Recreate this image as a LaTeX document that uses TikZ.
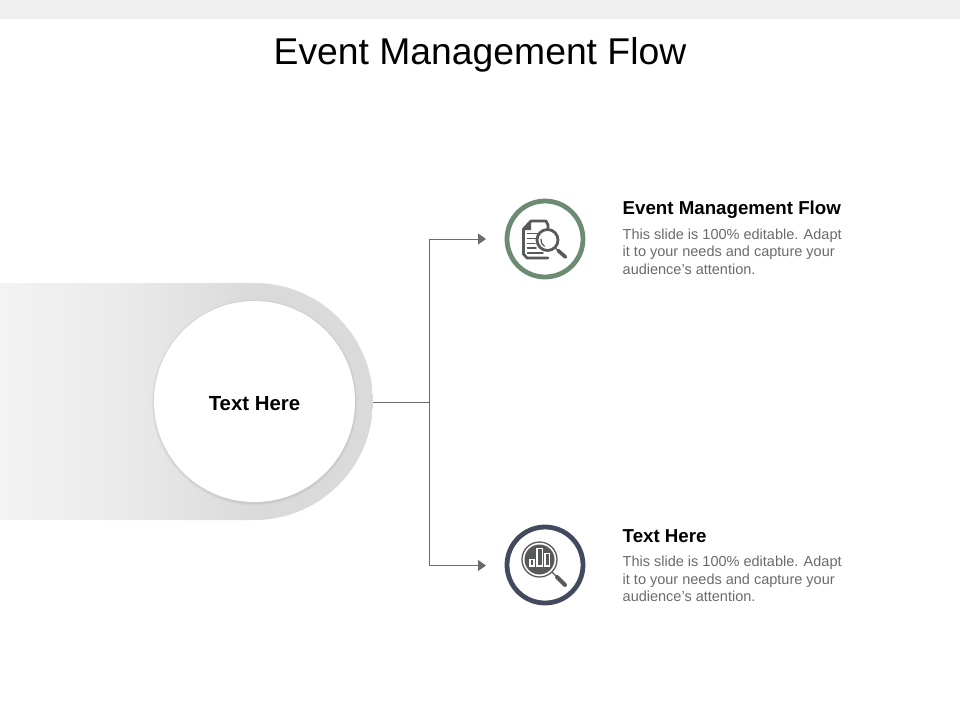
\documentclass[tikz,border=0pt]{standalone}
\usepackage{fontspec}
\setmainfont{Liberation Sans}
\usetikzlibrary{arrows.meta}
\definecolor{ringgreen}{HTML}{6B8B73}
\definecolor{ringnavy}{HTML}{434A5E}
\definecolor{icongray}{HTML}{58595B}
\definecolor{linegray}{HTML}{6B6B6B}
\definecolor{bodygray}{HTML}{6A6A6A}
\definecolor{bandend}{HTML}{DADADA}
\definecolor{bandmid}{HTML}{EAEAEA}
\definecolor{bandstart}{HTML}{F3F3F3}
\tikzset{
  ring/.style={circle,draw=#1,line width=4.8pt,fill=white,minimum size=76pt,inner sep=0pt},
  headtext/.style={anchor=west,inner sep=0pt,font=\fontsize{18.7}{21}\selectfont\bfseries,text=black},
  bodytext/.style={anchor=north west,inner sep=0pt,align=left,font=\fontsize{14.5}{17.5}\selectfont,text=bodygray},
  link/.style={draw=linegray,line width=0.9pt},
  linkarrow/.style={link,-{Triangle[length=8pt,width=11pt,fill=linegray]}},
  iconline/.style={draw=icongray,line width=2pt,line cap=round,line join=round},
}
\begin{document}
\begin{tikzpicture}[x=1pt,y=-1pt]
\useasboundingbox (0,0) rectangle (960,720);
\fill[black!6] (0,0) rectangle (960,19);
\node[inner sep=0pt,font=\fontsize{37.3}{42}\selectfont] (title) at (480,55) {Event Management Flow};
% band
\begin{scope}
  \clip (0,283) -- (254.5,283) arc[start angle=-90,end angle=90,radius=118.5] -- (0,520) -- cycle;
  \shade[left color=bandstart,right color=bandend,middle color=bandmid] (0,283) rectangle (254.5,520);
  \fill[bandend] (254.5,283) rectangle (373,520);
\end{scope}
\coordinate (bandtip) at (373,402);
% soft shadow of the disc
\foreach \r/\o in {103/0.015,102.3/0.02,101.6/0.03}{
  \fill[black,opacity=\o] (254.5,402.5) circle[radius=\r];
}
\node[circle,fill=white,minimum size=201pt,inner sep=0pt] (hub) at (254.5,401.5) {};
\node[inner sep=0pt,font=\fontsize{20.4}{23}\selectfont\bfseries] (hublabel) at (254.5,403.5) {Text Here};
% connectors
\coordinate (junction) at (429.5,402);
\node[ring=ringgreen] (top) at (545,239) {};
\node[ring=ringnavy] (bottom) at (545,565) {};
\coordinate (topend) at (486,239);
\coordinate (bottomend) at (486,565.5);
\draw[link] (bandtip) -- (junction);
\draw[linkarrow] (junction) |- (topend);
\draw[linkarrow] (junction) |- (bottomend);
% document + magnifier icon
\begin{scope}[shift={(490,185)}]
  \draw[iconline,line width=2.8pt] (58,43) -- (58,40) -- (56,36) -- (41,36) -- (33.5,44) -- (33.5,69) -- (37,73) -- (58,73);
  \fill[icongray] (41,35.5) -- (41,45) -- (33,45) -- cycle;
  \foreach \y/\e in {48.5/48,53.5/46,58.5/45,63/46,68/53}{
    \draw[iconline,line width=1.8pt] (37.5,\y) -- (\e,\y);
  }
  \draw[draw=icongray,line width=2.8pt,fill=white] (57.5,55) circle[radius=10.5];
  \draw[iconline,line width=1.2pt] (51,54) arc[start angle=190,end angle=120,radius=7];
  \draw[iconline,line width=1.4pt] (65,62.5) -- (68,65.5);
  \draw[iconline,line width=3.6pt] (68,65.5) -- (75.5,72);
\end{scope}
% chart + magnifier icon
\begin{scope}[shift={(490,510)}]
  \draw[draw=icongray,line width=1.3pt,fill=white] (49.5,49.5) circle[radius=17.5];
  \fill[icongray] (49.5,49.5) circle[radius=15];
  \foreach \xa/\ya/\xb in {40/49.5/44,47/38.5/52.5,55/43.5/59.5}{
    \draw[draw=white,line width=1.5pt] (\xa,\ya) rectangle (\xb,56);
  }
  \draw[iconline,line width=1.3pt] (62,62) -- (66,66);
  \draw[iconline,line width=4pt] (67,67) -- (75,75);
\end{scope}
% labels
\node[headtext] (h1) at (622.5,209.5) {Event Management Flow};
\node[bodytext] (b1) at (622.5,228.3) {This slide is 100\% editable. Adapt\\it to your needs and capture your\\audience's attention.};
\node[headtext] (h2) at (622.5,536) {Text Here};
\node[bodytext] (b2) at (622.5,555.8) {This slide is 100\% editable. Adapt\\it to your needs and capture your\\audience's attention.};
\end{tikzpicture}
\end{document}
